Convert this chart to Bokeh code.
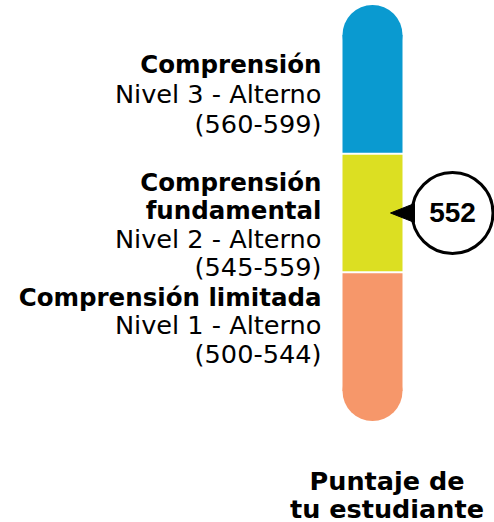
from bokeh.plotting import figure
from bokeh.models import Range1d
from bokeh.core.properties import value
from bokeh.embed import file_html
from bokeh.resources import INLINE

# ---------------- data ----------------
level_titles = ["Comprensión limitada", "Comprensión\nfundamental", "Comprensión"]
level_names = ["Nivel 1 - Alterno", "Nivel 2 - Alterno", "Nivel 3 - Alterno"]
range_low = [500, 545, 560]
range_high = [544, 559, 599]
level_colors = ["#F6976A", "#DCDF22", "#0A9AD0"]
student_score = 552
score_label = ["Puntaje de", "tu estudiante"]

# ---------------- layout (picture pixels, y measured from top) ----------------
W, H = 494, 522
BAR_X0, BAR_X1 = 342, 402
BAND_BOTTOM_PAGE = 390.5
BAND_PX = 118.67
LABEL_RIGHT = 321
FIRST_BASELINE = [296.5, 182, 64]   # y of first text line per level
LINE_H = [28.3, 28.3, 29.5]
BOLD_SIZE, REG_SIZE = "24.5px", "25.6px"
FONT = "DejaVu Sans"


def py(page_y):
    return H - page_y


Y0 = py(BAND_BOTTOM_PAGE)


def score_to_y(s):
    for i, (lo, hi) in enumerate(zip(range_low, range_high)):
        if lo <= s <= hi:
            frac = (s - lo + 0.5) / (hi - lo + 1)
            return Y0 + (i + frac) * BAND_PX
    return Y0


p = figure(width=W, height=H, output_backend="svg", toolbar_location=None,
           x_range=Range1d(0, W), y_range=Range1d(0, H), min_border=0)
p.axis.visible = False
p.grid.visible = False
p.outline_line_color = None
p.background_fill_color = "white"
p.border_fill_color = "white"

n = len(range_low)
bottoms = [Y0 + i * BAND_PX for i in range(n)]
tops = [Y0 + (i + 1) * BAND_PX for i in range(n)]
xc = (BAR_X0 + BAR_X1) / 2

# rounded caps
p.scatter(x=[xc], y=[tops[-1]], size=BAR_X1 - BAR_X0,
          marker="circle", fill_color=level_colors[-1], line_color=None)
p.scatter(x=[xc], y=[bottoms[0]], size=BAR_X1 - BAR_X0,
          marker="circle", fill_color=level_colors[0], line_color=None)

p.quad(left=[BAR_X0] * n, right=[BAR_X1] * n, bottom=bottoms, top=tops,
       fill_color=level_colors, line_color=None)
# white separators
p.segment(x0=[BAR_X0 - 1] * (n - 1), x1=[BAR_X1 + 1] * (n - 1),
          y0=tops[:-1], y1=tops[:-1], line_color="white", line_width=2)

# labels
for i in range(n):
    lines_bold = level_titles[i].split("\n")
    rng = "(%d-%d)" % (range_low[i], range_high[i])
    lines = [(t, "bold") for t in lines_bold] + [(level_names[i], "normal"), (rng, "normal")]
    for k, (t, style) in enumerate(lines):
        yb = FIRST_BASELINE[i] + k * LINE_H[i]
        p.text(x=[LABEL_RIGHT], y=[py(yb)], text=[t], text_align="right",
               text_baseline="alphabetic", text_font=value(FONT),
               text_font_style=style,
               text_font_size=BOLD_SIZE if style == "bold" else REG_SIZE,
               text_color="black")

# score marker
sy = score_to_y(student_score)
CX, D = 452, 81
p.scatter(x=[CX], y=[sy], size=D, marker="circle", fill_color="white",
          line_color="black", line_width=3)
p.patch(x=[390, 414, 414], y=[sy, sy + 9.5, sy - 9.5], fill_color="black",
        line_color="black", line_width=1)
p.text(x=[CX], y=[sy], text=[str(student_score)], text_align="center",
       text_baseline="middle", text_font=value("Liberation Sans"),
       text_font_style="bold", text_font_size="28px", text_color="black")

# bottom label
for k, t in enumerate(score_label):
    p.text(x=[386.5], y=[py(480.5 + k * 27.5)], text=[t], text_align="center",
           text_baseline="alphabetic", text_font=value(FONT),
           text_font_style="bold", text_font_size="25.5px", text_color="black")

open("out.html", "w").write(file_html(p, INLINE))
